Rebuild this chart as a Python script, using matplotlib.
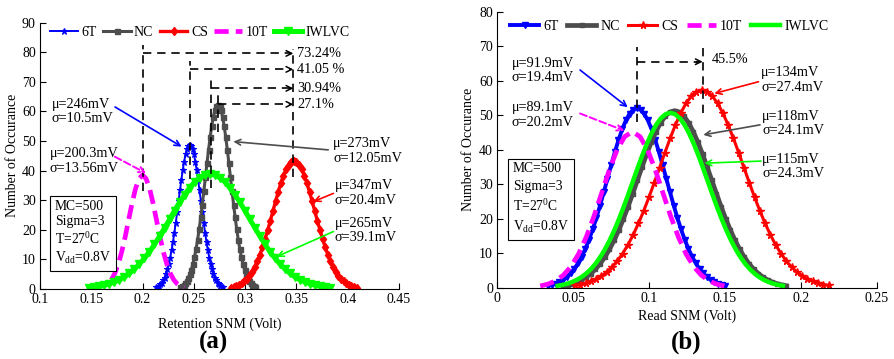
import numpy as np
import matplotlib
matplotlib.use("Agg")
import matplotlib.pyplot as plt

plt.rcParams['font.family'] = ['Liberation Serif', 'DejaVu Serif']
plt.rcParams['mathtext.fontset'] = 'custom'
plt.rcParams['mathtext.rm'] = 'Liberation Serif'
plt.rcParams['mathtext.it'] = 'Liberation Serif:italic'
plt.rcParams['font.size'] = 10

# ---------------- data ----------------
series_names = ["6T", "NC", "CS", "10T", "IWLVC"]

# Panel (a): Retention SNM
a_6T_x = (0.2133, 0.2787)
a_6T_y = [0.54, 0.78, 1.11, 1.56, 2.14, 2.91, 3.88, 5.10, 6.60, 8.41, 10.56, 13.03, 15.85,
          18.96, 22.34, 25.92, 29.60, 33.28, 36.83, 40.14, 43.07, 45.49, 47.30, 48.42, 48.8,
          48.42, 47.30, 45.49, 43.07, 40.14, 36.83, 33.28, 29.60, 25.92, 22.34, 18.96, 15.85,
          13.03, 10.56, 8.41, 6.60, 5.10, 3.88, 2.91, 2.14, 1.56, 1.11, 0.78, 0.54]
a_NC_x = (0.2369, 0.3101)
a_NC_y = [0.69, 1.00, 1.42, 1.99, 2.73, 3.71, 4.96, 6.52, 8.43, 10.74, 13.48, 16.64, 20.23,
          24.21, 28.52, 33.09, 37.79, 42.48, 47.02, 51.25, 54.98, 58.07, 60.38, 61.81, 62.3,
          61.81, 60.38, 58.07, 54.98, 51.25, 47.02, 42.48, 37.79, 33.09, 28.52, 24.21, 20.23,
          16.64, 13.48, 10.74, 8.43, 6.52, 4.96, 3.71, 2.73, 1.99, 1.42, 1.00, 0.69]
a_CS_x = (0.2863, 0.4087)
a_CS_y = [0.48, 0.69, 0.99, 1.38, 1.91, 2.59, 3.45, 4.54, 5.87, 7.48, 9.39, 11.59, 14.09,
          16.87, 19.87, 23.05, 26.32, 29.59, 32.76, 35.70, 38.30, 40.45, 42.06, 43.06, 43.4,
          43.06, 42.06, 40.45, 38.30, 35.70, 32.76, 29.59, 26.32, 23.05, 19.87, 16.87, 14.09,
          11.59, 9.39, 7.48, 5.87, 4.54, 3.45, 2.59, 1.91, 1.38, 0.99, 0.69, 0.48]
a_10T_x = (0.1695, 0.2407)
a_10T_y = [3.06, 5.21, 8.33, 12.5, 17.6, 23.4, 29.1, 34.0, 37.3, 38.5, 37.3, 34.0, 29.1,
           23.4, 17.6, 12.5, 8.33, 5.21, 3.06, 1.69, 0.88, 0.43]
a_IW_x = (0.148, 0.383)
a_IW_y = [0.43, 0.62, 0.88, 1.24, 1.70, 2.31, 3.09, 4.06, 5.25, 6.7, 8.4, 10.4, 12.6, 15.1,
          17.8, 20.6, 23.5, 26.5, 29.3, 31.9, 34.2, 36.2, 37.6, 38.5, 38.8, 38.5, 37.6, 36.2,
          34.2, 31.9, 29.3, 26.5, 23.5, 20.6, 17.8, 15.1, 12.6, 10.4, 8.4, 6.7, 5.25, 4.06,
          3.09, 2.31, 1.70, 1.24, 0.88, 0.62, 0.43]

# Panel (b): Read SNM
b_6T_x = (0.0338, 0.1502)
b_6T_y = [0.58, 0.83, 1.19, 1.66, 2.28, 3.10, 4.14, 5.44, 7.04, 8.96, 11.25, 13.89, 16.88,
          20.21, 23.81, 27.62, 31.54, 35.46, 39.25, 42.78, 45.89, 48.47, 50.4, 51.6, 52.0,
          51.6, 50.4, 48.47, 45.89, 42.78, 39.25, 35.46, 31.54, 27.62, 23.81, 20.21, 16.88,
          13.89, 11.25, 8.96, 7.04, 5.44, 4.14, 3.10, 2.28, 1.66, 1.19, 0.83, 0.58]
b_NC_x = (0.0433, 0.1903)
b_NC_y = [0.57, 0.82, 1.17, 1.64, 2.25, 3.06, 4.08, 5.37, 6.94, 8.84, 11.10, 13.70, 16.66,
          19.94, 23.49, 27.25, 31.11, 34.98, 38.72, 42.20, 45.27, 47.82, 49.72, 50.9, 51.3,
          50.9, 49.72, 47.82, 45.27, 42.20, 38.72, 34.98, 31.11, 27.25, 23.49, 19.94, 16.66,
          13.70, 11.10, 8.84, 6.94, 5.37, 4.08, 3.06, 2.25, 1.64, 1.17, 0.82, 0.57]
b_CS_x = (0.0513, 0.2181)
b_CS_y = [0.64, 0.92, 1.31, 1.83, 2.52, 3.42, 4.56, 5.99, 7.75, 9.88, 12.39, 15.30, 18.61,
          22.27, 26.23, 30.43, 34.75, 39.07, 43.25, 47.14, 50.57, 53.41, 55.54, 56.85, 57.3,
          56.85, 55.54, 53.41, 50.57, 47.14, 43.25, 39.07, 34.75, 30.43, 26.23, 22.27, 18.61,
          15.30, 12.39, 9.88, 7.75, 5.99, 4.56, 3.42, 2.52, 1.83, 1.31, 0.92, 0.64]
b_10T_x = (0.0284, 0.1496)
b_10T_y = [0.50, 1.03, 1.98, 3.60, 6.12, 9.78, 14.7, 20.7, 27.4, 34.1, 39.9, 43.8, 45.2,
           43.8, 39.9, 34.1, 27.4, 20.7, 14.7, 9.78, 6.12, 3.60, 1.98, 1.03, 0.50]
b_IW_x = (0.0399, 0.1881)
b_IW_y = [0.56, 0.81, 1.16, 1.62, 2.23, 3.02, 4.04, 5.30, 6.86, 8.74, 10.97, 13.54, 16.46,
          19.70, 23.21, 26.93, 30.75, 34.57, 38.27, 41.71, 44.74, 47.26, 49.14, 50.3, 50.7,
          50.3, 49.14, 47.26, 44.74, 41.71, 38.27, 34.57, 30.75, 26.93, 23.21, 19.70, 16.46,
          13.54, 10.97, 8.74, 6.86, 5.30, 4.04, 3.02, 2.23, 1.62, 1.16, 0.81, 0.56]

a_xticks = [0.1, 0.15, 0.2, 0.25, 0.3, 0.35, 0.4, 0.45]
a_xticklabels = ["0.1", "0.15", "0.2", "0.25", "0.3", "0.35", "0.4", "0.45"]
a_yticks = [0, 10, 20, 30, 40, 50, 60, 70, 80, 90]
b_xticks = [0, 0.05, 0.1, 0.15, 0.2, 0.25]
b_xticklabels = ["0", "0.05", "0.1", "0.15", "0.2", "0.25"]
b_yticks = [0, 10, 20, 30, 40, 50, 60, 70, 80]

BLUE = '#0000ff'
GRAY = '#4d4d4d'
RED = '#ff0000'
MAG = '#ff00ff'
GRN = '#00ff00'


def xs(rng, y):
    return np.linspace(rng[0], rng[1], len(y))


fig = plt.figure(figsize=(8.94, 3.59), dpi=100)
axA = fig.add_axes([0.0447, 0.195, 0.4016, 0.742])
axB = fig.add_axes([0.556, 0.1986, 0.425, 0.7688])


def style_axes(ax, xlim, ylim, xticks, xticklabels, yticks):
    ax.set_xlim(*xlim)
    ax.set_ylim(*ylim)
    ax.set_xticks(xticks)
    ax.set_xticklabels(xticklabels)
    ax.set_yticks(yticks)
    ax.spines['top'].set_visible(False)
    ax.spines['right'].set_visible(False)
    ax.tick_params(direction='in', length=4, width=0.8, labelsize=10)
    ax.tick_params(axis='x', pad=3)
    ax.tick_params(axis='y', pad=3)


LEG_A = dict(ncol=5, frameon=False, handlelength=2.0, handletextpad=0.25,
             columnspacing=0.45, fontsize=10, borderaxespad=0.0, loc='upper left')
LEG_B = dict(ncol=5, frameon=False, handlelength=2.1, handletextpad=0.3,
             columnspacing=0.6, fontsize=10, borderaxespad=0.0, loc='upper left')
ANN = dict(ha='left', va='center', fontsize=10.3, linespacing=1.15)

# ---------------- panel (a) ----------------
ax = axA
ax.plot(xs(a_6T_x, a_6T_y), a_6T_y, color=BLUE, lw=1.4, marker='*', ms=4.5, mew=0.8, label='6T')
ax.plot(xs(a_NC_x, a_NC_y), a_NC_y, color=GRAY, lw=2.2, marker='s', ms=3.6, label='NC')
ax.plot(xs(a_CS_x, a_CS_y), a_CS_y, color=RED, lw=2.4, marker='d', ms=4.5, label='CS')
ax.plot(xs(a_10T_x, a_10T_y), a_10T_y, color=MAG, lw=3.4, ls=(0, (3, 1.5)), label='10T')
ax.plot(xs(a_IW_x, a_IW_y), a_IW_y, color=GRN, lw=3.6, marker='v', ms=6, label='IWLVC')
style_axes(ax, (0.1, 0.45), (0, 90), a_xticks, a_xticklabels, a_yticks)
ax.set_xlabel('Retention SNM (Volt)', fontsize=10, labelpad=8)
ax.set_ylabel('Number of Occurance', fontsize=10, labelpad=2)
ax.legend(bbox_to_anchor=(0.0125, 1.008), **LEG_A)

dash = dict(color='k', lw=1.2, ls=(0, (5, 3.5)))
ax.plot([0.2, 0.2], [33, 82.5], **dash)
ax.plot([0.246, 0.246], [37, 77], **dash)
ax.plot([0.2665, 0.2665], [34, 70.6], **dash)
ax.plot([0.2735, 0.2735], [53, 66.7], **dash)
ax.plot([0.347, 0.347], [38, 81], **dash)
for x0, yv, txt in [(0.2, 79.6, '73.24%'), (0.246, 74.2, '41.05 %'),
                    (0.2665, 67.8, '30.94%'), (0.2735, 62.4, '27.1%')]:
    ax.plot([x0, 0.344], [yv, yv], **dash)
    ax.annotate('', xy=(0.347, yv), xytext=(0.3435, yv),
                arrowprops=dict(arrowstyle='->', color='k', lw=1.1, shrinkA=0, shrinkB=0))
    ax.text(0.3505, yv, txt, ha='left', va='center', fontsize=10.3)

ax.text(0.1114, 60, 'μ=246mV\nσ=10.5mV', **ANN)
ax.annotate('', xy=(0.2381, 48.1), xytext=(0.1732, 61.5),
            arrowprops=dict(arrowstyle='->', color=BLUE, lw=1.2, shrinkA=0, shrinkB=0))
ax.text(0.1097, 43.2, 'μ=200.3mV\nσ=13.56mV', **ANN)
ax.annotate('', xy=(0.2035, 39.1), xytext=(0.173, 44.7),
            arrowprops=dict(arrowstyle='->', color=MAG, lw=1.4, ls='--', shrinkA=0, shrinkB=0))
ax.text(0.3857, 46.6, 'μ=273mV\nσ=12.05mV', **ANN)
ax.annotate('', xy=(0.2885, 49.8), xytext=(0.381, 47.0),
            arrowprops=dict(arrowstyle='->', color=GRAY, lw=1.2, shrinkA=0, shrinkB=0))
ax.text(0.3876, 32.4, 'μ=347mV\nσ=20.4mV', **ANN)
ax.annotate('', xy=(0.3665, 29.5), xytext=(0.386, 32.3),
            arrowprops=dict(arrowstyle='->', color=RED, lw=1.2, shrinkA=0, shrinkB=0))
ax.text(0.3876, 19.8, 'μ=265mV\nσ=39.1mV', **ANN)
ax.annotate('', xy=(0.3307, 10.9), xytext=(0.386, 19.4),
            arrowprops=dict(arrowstyle='->', color=GRN, lw=1.2, shrinkA=0, shrinkB=0))

ax.text(0.1146, 18.9, 'MC=500\nSigma=3\nT=27$^{0}$C\nV$_{\\rm dd}$=0.8V', ha='left', va='center',
        fontsize=9.8, linespacing=1.25,
        bbox=dict(boxstyle='square,pad=0.35', fc='white', ec='k', lw=0.8))
fig.text(214 / 894, 1 - 342 / 359, '(a)', ha='center', va='center', fontsize=18, fontweight='bold')

# ---------------- panel (b) ----------------
ax = axB
ax.plot(xs(b_6T_x, b_6T_y), b_6T_y, color=BLUE, lw=2.8, marker='v', ms=4.5, label='6T')
ax.plot(xs(b_NC_x, b_NC_y), b_NC_y, color=GRAY, lw=3.4, marker='s', ms=3.5, label='NC')
ax.plot(xs(b_CS_x, b_CS_y), b_CS_y, color=RED, lw=2.2, marker='*', ms=5.5, mew=1.0, label='CS')
ax.plot(xs(b_10T_x, b_10T_y), b_10T_y, color=MAG, lw=3.4, ls=(0, (3, 1.5)), label='10T')
ax.plot(xs(b_IW_x, b_IW_y), b_IW_y, color=GRN, lw=3.2, label='IWLVC')
style_axes(ax, (0, 0.25), (0, 80), b_xticks, b_xticklabels, b_yticks)
ax.set_xlabel('Read SNM (Volt)', fontsize=10, labelpad=3)
ax.set_ylabel('Number of Occurance', fontsize=10, labelpad=3)
ax.legend(bbox_to_anchor=(0.02, 0.99), **LEG_B)

ax.plot([0.0919, 0.0919], [48.1, 69.9], **dash)
ax.plot([0.1353, 0.1353], [50.5, 69.9], **dash)
ax.plot([0.0919, 0.1325], [65.5, 65.5], **dash)
ax.annotate('', xy=(0.1353, 65.5), xytext=(0.131, 65.5),
            arrowprops=dict(arrowstyle='->', color='k', lw=1.1, shrinkA=0, shrinkB=0))
ax.text(0.1413, 66.2, '45.5%', ha='left', va='center', fontsize=10.3)

ax.text(0.0097, 62.9, 'μ=91.9mV\nσ=19.4mV', **ANN)
ax.annotate('', xy=(0.086, 52.3), xytext=(0.0546, 63.1),
            arrowprops=dict(arrowstyle='->', color=BLUE, lw=1.2, shrinkA=0, shrinkB=0))
ax.text(0.0097, 50.0, 'μ=89.1mV\nσ=20.2mV', **ANN)
ax.annotate('', xy=(0.0838, 45.5), xytext=(0.0546, 50.5),
            arrowprops=dict(arrowstyle='->', color=MAG, lw=1.4, ls='--', shrinkA=0, shrinkB=0))
ax.text(0.1737, 60.2, 'μ=134mV\nσ=27.4mV', **ANN)
ax.annotate('', xy=(0.143, 56.3), xytext=(0.172, 59.7),
            arrowprops=dict(arrowstyle='->', color=RED, lw=1.2, shrinkA=0, shrinkB=0))
ax.text(0.1745, 47.6, 'μ=118mV\nσ=24.1mV', **ANN)
ax.annotate('', xy=(0.1357, 44.3), xytext=(0.173, 47.2),
            arrowprops=dict(arrowstyle='->', color=GRAY, lw=1.2, shrinkA=0, shrinkB=0))
ax.text(0.1745, 35.1, 'μ=115mV\nσ=24.3mV', **ANN)
ax.annotate('', xy=(0.1364, 36.1), xytext=(0.1737, 36.7),
            arrowprops=dict(arrowstyle='->', color=GRN, lw=1.2, shrinkA=0, shrinkB=0))

ax.text(0.0105, 25.8, 'MC=500\nSigma=3\nT=27$^{0}$C\nV$_{\\rm dd}$=0.8V', ha='left', va='center',
        fontsize=9.8, linespacing=1.42,
        bbox=dict(boxstyle='square,pad=0.35', fc='white', ec='k', lw=0.8))
fig.text(686 / 894, 1 - 342 / 359, '(b)', ha='center', va='center', fontsize=18, fontweight='bold')

fig.savefig('out.png', dpi=100)
